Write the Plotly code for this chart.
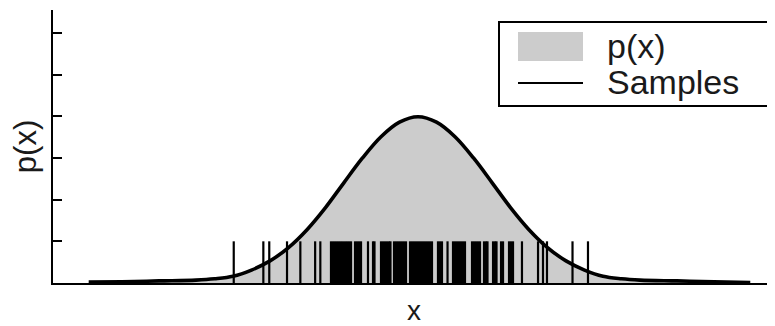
import plotly.graph_objects as go

# density curve p(x)
curve_x = [-4.45, -4.0, -3.5, -3.0, -2.75, -2.5, -2.25, -2.0, -1.75, -1.5, -1.25, -1.0,
           -0.75, -0.5, -0.25, 0.0, 0.25, 0.5, 0.75, 1.0, 1.25, 1.5, 1.75, 2.0, 2.25,
           2.5, 2.75, 3.0, 3.5, 4.0, 4.49]
curve_p = [0.002, 0.003, 0.005, 0.007, 0.010, 0.016, 0.031, 0.053, 0.085, 0.128, 0.181, 0.241,
           0.300, 0.351, 0.386, 0.399, 0.386, 0.351, 0.300, 0.241, 0.181, 0.128, 0.085, 0.053, 0.031,
           0.016, 0.010, 0.007, 0.005, 0.003, 0.001]

# sample positions (rug)
samples = [-2.49, -2.09, -2.01, -1.77, -1.59, -1.39, -1.32,
           -1.176, -1.149, -1.122, -1.095, -1.068, -1.041, -1.014, -0.986, -0.959, -0.932, -0.905,
           -0.851, -0.824, -0.797, -0.770, -0.676, -0.608, -0.588,
           -0.500, -0.473, -0.446, -0.419, -0.392, -0.372,
           -0.324, -0.297, -0.270, -0.243, -0.216, -0.189, -0.162,
           -0.108, -0.081, -0.054, -0.027, 0.000, 0.027, 0.054, 0.081, 0.108, 0.135, 0.162, 0.189,
           0.270, 0.297, 0.324, 0.399,
           0.473, 0.500, 0.527, 0.554, 0.581, 0.608, 0.635,
           0.730, 0.757, 0.784, 0.811, 0.838,
           0.892, 0.919, 0.939, 1.014, 1.041, 1.061, 1.122, 1.149,
           1.230, 1.257, 1.284,
           1.405, 1.622, 1.689, 1.743, 2.088, 2.297]
sample_height = 0.1

y_ticks = [0.1, 0.2, 0.3, 0.4, 0.5, 0.6]
legend_labels = ["p(x)", "Samples"]

FILL = "#cccccc"
FONT = "Liberation Sans, Arial, sans-serif"

fig = go.Figure()
fig.add_trace(go.Scatter(x=curve_x, y=curve_p, mode="lines", fill="tozeroy",
                         fillcolor=FILL, line=dict(width=0, shape="spline"),
                         name=legend_labels[0], showlegend=False, hoverinfo="skip"))

rx, ry = [], []
for s in samples:
    rx += [s, s, None]
    ry += [0, sample_height, None]
fig.add_trace(go.Scatter(x=rx, y=ry, mode="lines", line=dict(color="black", width=2.2),
                         name=legend_labels[1], showlegend=False, hoverinfo="skip"))

fig.add_trace(go.Scatter(x=curve_x, y=curve_p, mode="lines",
                         line=dict(color="black", width=3.6, shape="spline", smoothing=1.0),
                         showlegend=False, hoverinfo="skip"))

# hand-made legend (box, swatch, line, labels); page pixels -> paper coords
def px(p):
    return (p - 53) / 722

def py(q):
    return (283 - q) / 273

shapes = [
    dict(type="rect", xref="paper", yref="paper", x0=px(499), x1=px(770), y0=py(106), y1=py(22),
         line=dict(color="black", width=2), fillcolor="white", layer="above"),
    dict(type="rect", xref="paper", yref="paper", x0=px(518), x1=px(583), y0=py(61), y1=py(32),
         line=dict(width=0), fillcolor=FILL, layer="above"),
    dict(type="line", xref="paper", yref="paper", x0=px(518), x1=px(583), y0=py(83), y1=py(83),
         line=dict(color="black", width=2), layer="above"),
]
annotations = [
    dict(text=legend_labels[0], xref="paper", yref="paper", x=px(606), y=py(46),
         xanchor="left", yanchor="middle", showarrow=False, borderpad=0,
         font=dict(family=FONT, size=34, color="#1a1a1a")),
    dict(text=legend_labels[1], xref="paper", yref="paper", x=px(606), y=py(82),
         xanchor="left", yanchor="middle", showarrow=False, borderpad=0,
         font=dict(family=FONT, size=34, color="#1a1a1a")),
]

# the page places the figure 8px in from the top-left corner
fig.update_layout(
    width=767, height=318,
    margin=dict(l=45, r=0, t=2, b=43, autoexpand=False),
    paper_bgcolor="white", plot_bgcolor="white",
    showlegend=False,
    shapes=shapes, annotations=annotations,
    font=dict(family=FONT, color="#1a1a1a"),
    xaxis=dict(range=[(53 - 418) / 74, (775 - 418) / 74], showline=True, linecolor="black",
               linewidth=1.5, ticks="", showticklabels=False, showgrid=False, zeroline=False,
               automargin=False,
               title=dict(text="x", font=dict(size=28), standoff=20)),
    yaxis=dict(range=[0, 0.655], tickvals=y_ticks, ticks="inside", ticklen=9, tickwidth=2,
               tickcolor="black", showline=True, linecolor="black", linewidth=2,
               showticklabels=False, showgrid=False, zeroline=False, automargin=False,
               title=dict(text="p(x)", font=dict(size=31), standoff=13)),
)

fig.write_html("out.html")
